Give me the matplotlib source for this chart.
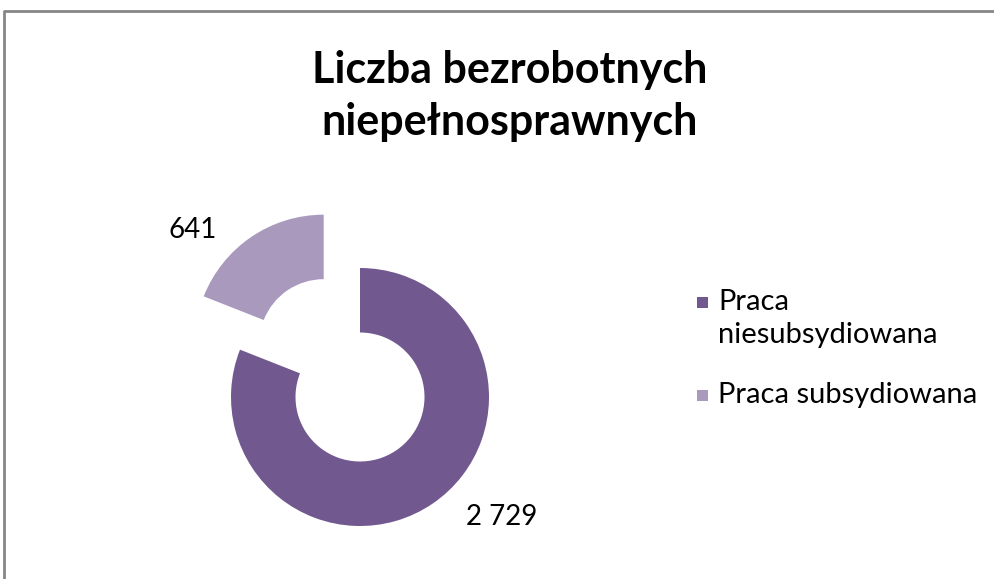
import matplotlib
matplotlib.use("Agg")
import matplotlib.pyplot as plt
from matplotlib.patches import Rectangle
from matplotlib.lines import Line2D

plt.rcParams["font.family"] = ["Lato", "DejaVu Sans"]

# Dane
categories = ["Praca\nniesubsydiowana", "Praca subsydiowana"]
values = [2729, 641]
value_labels = ["2 729", "641"]
colors = ["#71588F", "#A99ABD"]
title = "Liczba bezrobotnych\nniepełnosprawnych"

W, H = 994, 579
fig = plt.figure(figsize=(W / 100, H / 100), dpi=100)

# Środek wykresu i promień w pikselach
cx, cy, r = 360, 397, 129
ax = fig.add_axes([0, 0, 1, 1])
ax.pie(values, colors=colors, startangle=90, counterclock=False,
       radius=1, explode=[0, 0.5],
       wedgeprops=dict(width=0.5, linewidth=0))
ax.set_aspect("auto")
ax.set_xlim(-cx / r, (W - cx) / r)
ax.set_ylim(-(H - cy) / r, cy / r)
ax.axis("off")

# Etykiety wartości
label_pos = [(1.10, -0.93), (-1.295, 1.295)]
for txt, (x, y) in zip(value_labels, label_pos):
    ax.text(x, y, txt, fontsize=20, ha="center", va="center")

# Tytuł
fig.text(510 / W, 1 - 96 / H, title, fontsize=31, fontweight="bold",
         ha="center", va="center", linespacing=1.38)

# Legenda (ręcznie, kwadrat przy pierwszej linii)
leg_tops = [289, 382]
for lab, c, top in zip(categories, colors, leg_tops):
    fig.add_artist(Rectangle((697 / W, 1 - (top + 19) / H), 11 / W, 11 / H,
                             transform=fig.transFigure, facecolor=c,
                             edgecolor="none"))
    fig.text(718 / W, 1 - top / H, lab, fontsize=21, ha="left", va="top",
             linespacing=1.35)

# Ramka (górna i lewa krawędź)
fig.add_artist(Line2D([4 / W, 4 / W, 1], [0, 1 - 11 / H, 1 - 11 / H],
                      transform=fig.transFigure, color="#868686", lw=2))

fig.savefig("out.png", dpi=100)
